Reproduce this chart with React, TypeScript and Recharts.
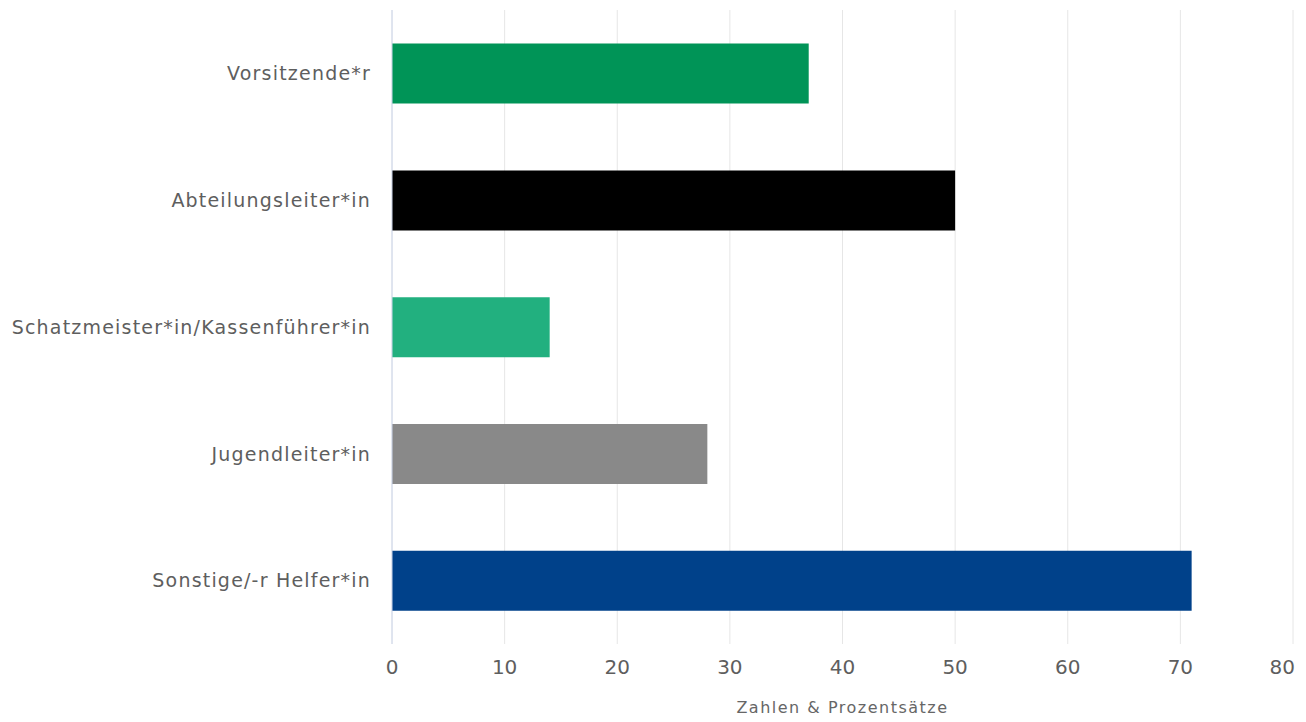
import React from "react";
import { BarChart, Bar, XAxis, YAxis, CartesianGrid, Cell } from "recharts";

const categories = [
  "Vorsitzende*r",
  "Abteilungsleiter*in",
  "Schatzmeister*in/Kassenführer*in",
  "Jugendleiter*in",
  "Sonstige/-r Helfer*in",
];
const values = [37, 50, 14, 28, 71];
const colors = ["#009457", "#000000", "#22b07f", "#898989", "#00418a"];
const xTicks = [0, 10, 20, 30, 40, 50, 60, 70, 80];
const xTitle = "Zahlen & Prozentsätze";

const data = categories.map((name, i) => ({ name, value: values[i] }));

const font = "'DejaVu Sans', Verdana, sans-serif";

const XTick = (props: any) => {
  const { x, y, payload, index, visibleTicksCount } = props;
  const last = index === (visibleTicksCount ?? xTicks.length) - 1;
  return (
    <text
      x={x}
      y={y}
      dy="0.71em"
      dx={last ? 2 : 0}
      textAnchor={last ? "end" : "middle"}
      fill="#5e5e5e"
      fontSize={20}
      fontFamily={font}
    >
      {payload.value}
    </text>
  );
};

export default function App() {
  return (
    <div style={{ position: "fixed", left: 0, top: 0, width: 1306, height: 722, background: "#fff" }}>
      <BarChart
        width={1306}
        height={722}
        data={data}
        layout="vertical"
        margin={{ top: 10, right: 13, left: 0, bottom: 0 }}
        barCategoryGap="26.5%"
      >
        <CartesianGrid horizontal={false} vertical={true} stroke="#e6e6e6" />
        <XAxis
          type="number"
          domain={[0, 80]}
          ticks={xTicks}
          axisLine={false}
          tickLine={false}
          tickSize={0}
          tickMargin={16}
          height={78}
          tick={<XTick />}
          label={{
            value: xTitle,
            position: "insideBottom",
            offset: 9,
            fill: "#666666",
            fontSize: 16,
            fontFamily: font,
            letterSpacing: 1.5,
          }}
        />
        <YAxis
          type="category"
          dataKey="name"
          width={392}
          axisLine={{ stroke: "#ccd6eb" }}
          tickLine={false}
          tickSize={0}
          tickMargin={21}
          tick={{ fill: "#5e5e5e", fontSize: 19, fontFamily: font, letterSpacing: 1.2 }}
        />
        <Bar dataKey="value" isAnimationActive={false}>
          {data.map((d, i) => (
            <Cell key={d.name} fill={colors[i]} />
          ))}
        </Bar>
      </BarChart>
    </div>
  );
}
